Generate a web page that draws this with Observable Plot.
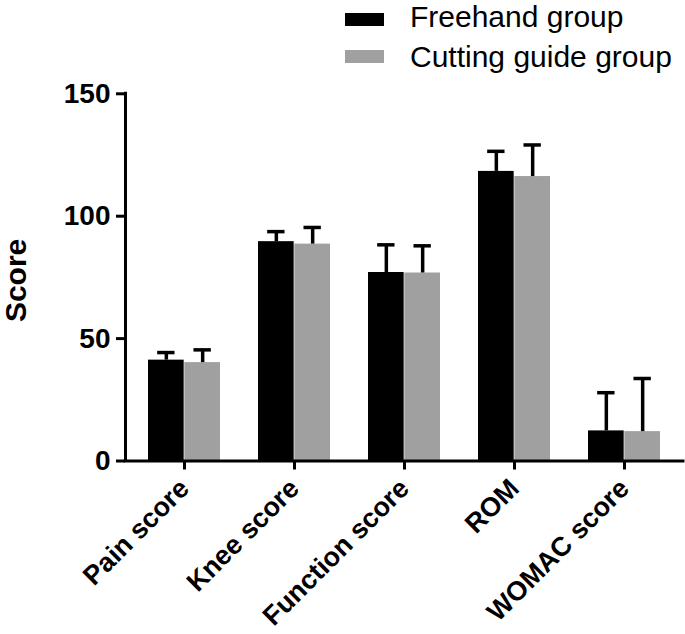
<!DOCTYPE html>
<html>
<head>
<meta charset="utf-8">
<script src="https://cdn.jsdelivr.net/npm/d3@7"></script>
<script src="https://cdn.jsdelivr.net/npm/@observablehq/plot@0.6"></script>
<style>
  body { margin: 0; background: #fff; font-family: "Liberation Sans", Arial, sans-serif; }
  #wrap { width: 685px; }
  #legend { position: relative; height: 70px; width: 685px; }
  .sw { position: absolute; left: 345px; width: 39px; height: 13px; }
  .lt { position: absolute; left: 410px; font-size: 30px; line-height: 30px; color: #000; white-space: nowrap; }
  svg text { font-weight: bold; }
</style>
</head>
<body>
<div id="wrap">
  <div id="legend"></div>
  <div id="chart"></div>
</div>
<script>
// ---- data ----
const categories = ["Pain score", "Knee score", "Function score", "ROM", "WOMAC score"];
const groups = ["Freehand group", "Cutting guide group"];
const freehandMean = [41.2, 89.6, 77.0, 118.3, 12.3];
const freehandSD   = [3.1, 4.1, 11.3, 8.2, 15.6];
const guideMean    = [40.2, 88.6, 76.8, 116.2, 12.0];
const guideSD      = [5.2, 6.8, 11.1, 12.9, 21.7];
const yTicks = [0, 50, 100, 150];
const yLabel = "Score";
const colors = ["#000000", "#a0a0a0"];

// ---- layout ----
const legendH = 70;
const W = 685, H = 634 - legendH;
const mL = 125, mR = 2, mT = 93.3 - legendH, mB = 634 - 460.5;
const pInner = 0.342, pOuter = 0.198;
const step = (W - mL - mR) / (categories.length - pInner + 2 * pOuter);
const bw = step * (1 - pInner);
const capHalf = 9;

const fh = categories.map((c, i) => ({cat: c, mean: freehandMean[i], sd: freehandSD[i]}));
const cg = categories.map((c, i) => ({cat: c, mean: guideMean[i], sd: guideSD[i]}));

// legend
const legend = document.getElementById("legend");
groups.forEach((g, i) => {
  const sw = document.createElement("div");
  sw.className = "sw";
  sw.style.top = (i === 0 ? 12.7 : 49.5) + "px";
  sw.style.background = colors[i];
  legend.appendChild(sw);
  const t = document.createElement("div");
  t.className = "lt";
  t.style.top = (i === 0 ? 1.6 : 41.6) + "px";
  t.textContent = g;
  legend.appendChild(t);
});

const chart = Plot.plot({
  width: W,
  height: H,
  marginLeft: mL,
  marginRight: mR,
  marginTop: mT,
  marginBottom: mB,
  style: {fontFamily: "'Liberation Sans', Arial, sans-serif", color: "#000", background: "#fff", overflow: "visible"},
  x: {domain: categories, paddingInner: pInner, paddingOuter: pOuter, axis: null},
  y: {domain: [0, 150], axis: null},
  marks: [
    Plot.barY(fh, {x: "cat", y: "mean", fill: colors[0], insetRight: bw / 2}),
    Plot.barY(cg, {x: "cat", y: "mean", fill: colors[1], insetLeft: bw / 2}),
    Plot.ruleX(fh, {x: "cat", y1: "mean", y2: d => d.mean + d.sd, dx: -bw / 4, stroke: "#000", strokeWidth: 3.5}),
    Plot.ruleX(cg, {x: "cat", y1: "mean", y2: d => d.mean + d.sd, dx: bw / 4, stroke: "#000", strokeWidth: 3.5}),
    Plot.tickY(fh, {x: "cat", y: d => d.mean + d.sd, insetLeft: bw / 4 - capHalf, insetRight: bw * 3 / 4 - capHalf, stroke: "#000", strokeWidth: 3.5}),
    Plot.tickY(cg, {x: "cat", y: d => d.mean + d.sd, insetLeft: bw * 3 / 4 - capHalf, insetRight: bw / 4 - capHalf, stroke: "#000", strokeWidth: 3.5}),
    Plot.ruleY([0], {stroke: "#000", strokeWidth: 3, strokeLinecap: "square"}),
    Plot.ruleX([0], {x: null, y1: 0, y2: 150, dx: mL - (mL + W - mR) / 2, stroke: "#000", strokeWidth: 3, strokeLinecap: "square"}),
    Plot.axisY({ticks: yTicks, tickSize: 9, tickPadding: 6, strokeWidth: 3, fontSize: 28, fontWeight: "bold", label: null}),
    Plot.text([yLabel], {frameAnchor: "left", textAnchor: "middle", lineAnchor: "middle", dx: 16 - mL, dy: 3, rotate: -90, fontSize: 30, fontWeight: "bold", fill: "#000"}),
    Plot.axisX({tickSize: 9, tickPadding: 14, strokeWidth: 3, fontSize: 27, fontWeight: "bold", tickRotate: -45, label: null})
  ]
});
document.getElementById("chart").appendChild(chart);
</script>
</body>
</html>
